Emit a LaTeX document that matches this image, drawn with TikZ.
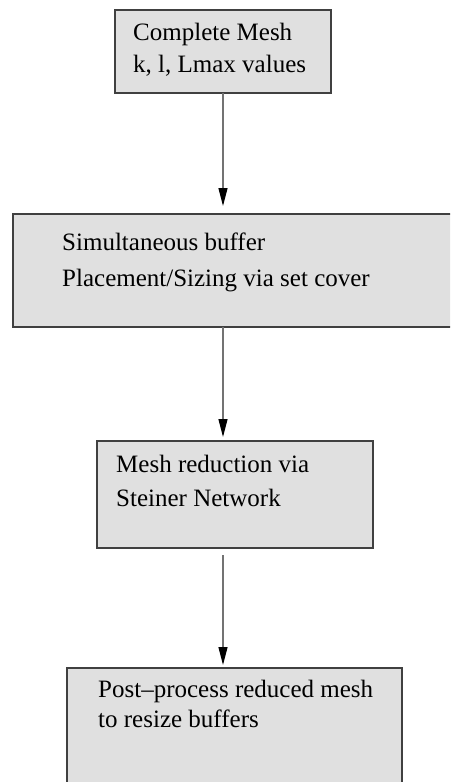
\documentclass[tikz,border=0pt]{standalone}
\usepackage{fontspec}
\setmainfont{Liberation Serif}
\usetikzlibrary{positioning}
\usetikzlibrary{arrows.meta}

\begin{document}
\begin{tikzpicture}[x=1pt,y=-1pt,
    stage/.style={draw=black!75,fill=black!12,line width=1.2pt,rectangle,
anchor=north west,inner sep=0pt,outer sep=0pt},
    boxtext/.style={anchor=north west,inner sep=0pt,align=left,
font=\fontsize{25}{#1}\selectfont},
    boxtext/.default=32,
    flow/.style={draw=black!55,line width=1.3pt,
-{Triangle[length=18pt,width=9pt,color=black]}}]
\useasboundingbox (0,0) rectangle (450,782);
\clip (0,0) rectangle (450,782);
\node[stage,minimum width=216pt,minimum height=83pt] (mesh) at (115,10) {};
\node[stage,minimum width=460pt,minimum height=113pt] (buffer) at (13,214) {};
\node[stage,minimum width=276pt,minimum height=107pt] (steiner) at (97,441) {};
\node[stage,minimum width=335pt,minimum height=140pt] (post) at (67,668) {};
\node[boxtext=32] (meshtext) at ([xshift=18pt,yshift=-13pt]mesh.north west)
{Complete Mesh\\k, l, Lmax values};
\node[boxtext=36] (buffertext) at ([xshift=49pt,yshift=-19pt]buffer.north west)
{Simultaneous buffer\\Placement/Sizing via set cover};
\node[boxtext=34] (steinertext) at ([xshift=19pt,yshift=-14pt]steiner.north west)
{Mesh reduction via\\Steiner Network};
\node[boxtext=30] (posttext) at ([xshift=31pt,yshift=-12pt]post.north west)
{Post--process reduced mesh\\to resize buffers};

\draw[flow,shorten >=8pt] (mesh.south) -- (mesh.south |- buffer.north);
\draw[flow,shorten >=4pt] (mesh.south |- buffer.south) -- (mesh.south |- steiner.north);
\draw[flow,shorten <=7pt,shorten >=3pt] (mesh.south |- steiner.south) -- (mesh.south |- post.north);
\end{tikzpicture}
\end{document}
